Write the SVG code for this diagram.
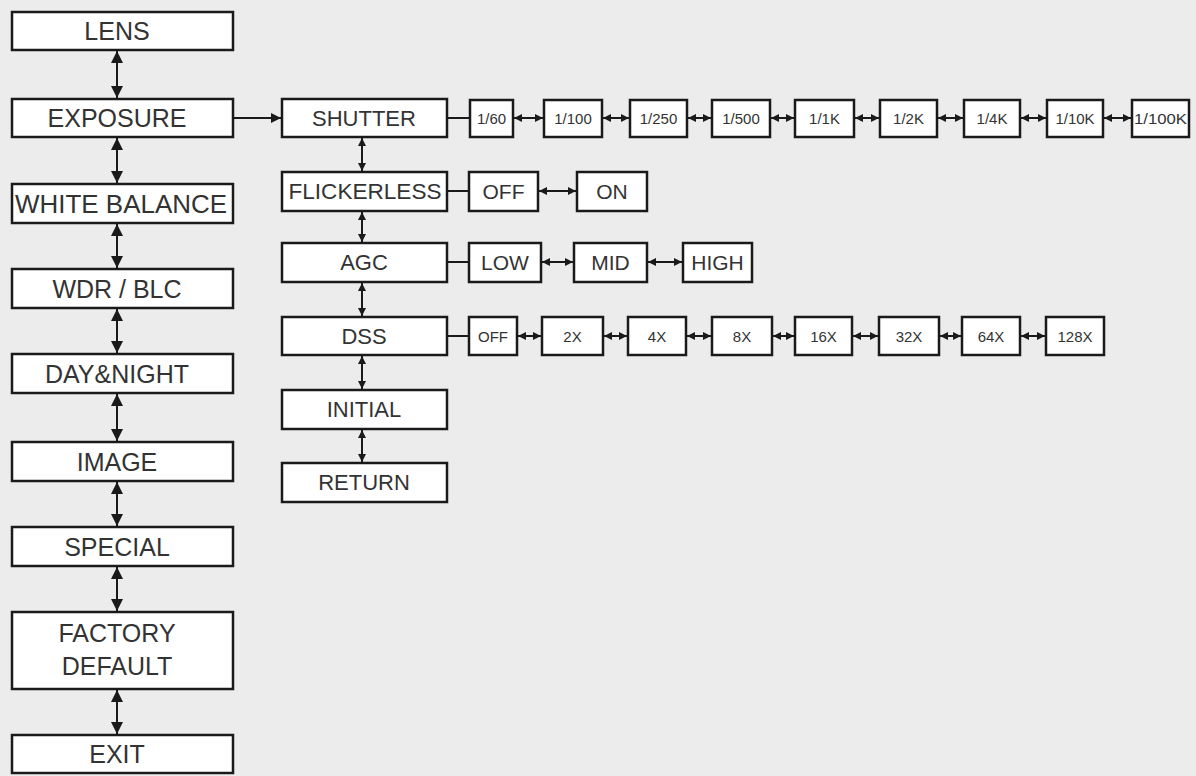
<svg xmlns="http://www.w3.org/2000/svg" width="1196" height="776" viewBox="0 0 1196 776">
<defs>
<style>
.box{fill:#fff;stroke:#1a1a1a;stroke-width:2.5}
.t{font-family:"Liberation Sans",Arial,sans-serif;fill:#333;text-anchor:middle}
.l{font-size:25px}
.m{font-size:22px}
.v{font-size:21px}
.s{font-size:15px}
.c{stroke:#1a1a1a;stroke-width:2;fill:none}
.big{marker-start:url(#ab);marker-end:url(#ab)}
.sm{marker-start:url(#as);marker-end:url(#as)}
</style>
<marker id="ab" markerUnits="userSpaceOnUse" markerWidth="12" markerHeight="12" viewBox="0 0 12 12" refX="12" refY="6" orient="auto-start-reverse"><path d="M0,0 L12,6 L0,12 z" fill="#1a1a1a"/></marker>
<marker id="as" markerUnits="userSpaceOnUse" markerWidth="8" markerHeight="8" viewBox="0 0 8 8" refX="8" refY="4" orient="auto-start-reverse"><path d="M0,0 L8,4 L0,8 z" fill="#1a1a1a"/></marker>
<marker id="ae" markerUnits="userSpaceOnUse" markerWidth="10" markerHeight="10" viewBox="0 0 10 10" refX="10" refY="5" orient="auto"><path d="M0,0 L10,5 L0,10 z" fill="#1a1a1a"/></marker>
</defs>
<rect width="1196" height="776" fill="#ececec"/>

<g id="connectors">
<line class="c big" x1="117" y1="51" x2="117" y2="98"/>
<line class="c big" x1="117" y1="138" x2="117" y2="183"/>
<line class="c big" x1="117" y1="224" x2="117" y2="268"/>
<line class="c big" x1="117" y1="309" x2="117" y2="353"/>
<line class="c big" x1="117" y1="394" x2="117" y2="441"/>
<line class="c big" x1="117" y1="482" x2="117" y2="526"/>
<line class="c big" x1="117" y1="567" x2="117" y2="611"/>
<line class="c big" x1="117" y1="690" x2="117" y2="734"/>
<line class="c" x1="233" y1="118" x2="281" y2="118" marker-end="url(#ae)"/>
<line class="c sm" x1="362" y1="138" x2="362" y2="171"/>
<line class="c sm" x1="362" y1="212" x2="362" y2="242"/>
<line class="c sm" x1="362" y1="283" x2="362" y2="316"/>
<line class="c sm" x1="362" y1="356" x2="362" y2="389"/>
<line class="c sm" x1="362" y1="430" x2="362" y2="462"/>
<line class="c" x1="448" y1="118" x2="469" y2="118"/>
<line class="c sm" x1="514" y1="118" x2="543" y2="118"/>
<line class="c sm" x1="603" y1="118" x2="629" y2="118"/>
<line class="c sm" x1="688" y1="118" x2="711" y2="118"/>
<line class="c sm" x1="771" y1="118" x2="794" y2="118"/>
<line class="c sm" x1="855" y1="118" x2="879" y2="118"/>
<line class="c sm" x1="938" y1="118" x2="963" y2="118"/>
<line class="c sm" x1="1021" y1="118" x2="1046" y2="118"/>
<line class="c sm" x1="1104" y1="118" x2="1131" y2="118"/>
<line class="c" x1="448" y1="191" x2="468" y2="191"/>
<line class="c sm" x1="539" y1="191" x2="576" y2="191"/>
<line class="c" x1="448" y1="262" x2="468" y2="262"/>
<line class="c sm" x1="542" y1="262" x2="573" y2="262"/>
<line class="c sm" x1="648" y1="262" x2="682" y2="262"/>
<line class="c" x1="448" y1="336" x2="468" y2="336"/>
<line class="c sm" x1="518" y1="336" x2="541" y2="336"/>
<line class="c sm" x1="604" y1="336" x2="627" y2="336"/>
<line class="c sm" x1="687" y1="336" x2="711" y2="336"/>
<line class="c sm" x1="773" y1="336" x2="794" y2="336"/>
<line class="c sm" x1="853" y1="336" x2="878" y2="336"/>
<line class="c sm" x1="940" y1="336" x2="961" y2="336"/>
<line class="c sm" x1="1021" y1="336" x2="1045" y2="336"/>
</g>

<g id="lens"><rect class="box" x="12" y="12" width="221" height="38"/><text class="t l" x="117" y="40">LENS</text></g>
<g id="exposure"><rect class="box" x="12" y="99" width="221" height="38"/><text class="t l" x="117" y="127">EXPOSURE</text></g>
<g id="white-balance"><rect class="box" x="12" y="184" width="221" height="39"/><text class="t l" x="121" y="213" textLength="212" lengthAdjust="spacingAndGlyphs">WHITE BALANCE</text></g>
<g id="wdr-blc"><rect class="box" x="12" y="269" width="221" height="39"/><text class="t l" x="117" y="298">WDR / BLC</text></g>
<g id="day-night"><rect class="box" x="12" y="354" width="221" height="39"/><text class="t l" x="117" y="383">DAY&amp;NIGHT</text></g>
<g id="image"><rect class="box" x="12" y="442" width="221" height="39"/><text class="t l" x="117" y="471">IMAGE</text></g>
<g id="special"><rect class="box" x="12" y="527" width="221" height="39"/><text class="t l" x="117" y="556">SPECIAL</text></g>
<g id="factory-default"><rect class="box" x="12" y="612" width="221" height="77"/><text class="t l" x="117" y="642">FACTORY</text><text class="t l" x="117" y="675">DEFAULT</text></g>
<g id="exit"><rect class="box" x="12" y="735" width="221" height="38"/><text class="t l" x="117" y="763">EXIT</text></g>

<g id="shutter"><rect class="box" x="282" y="99" width="165" height="38"/><text class="t m" x="364" y="126">SHUTTER</text></g>
<g id="flickerless"><rect class="box" x="282" y="172" width="165" height="39"/><text class="t m" x="365" y="199" textLength="153" lengthAdjust="spacingAndGlyphs">FLICKERLESS</text></g>
<g id="agc"><rect class="box" x="282" y="243" width="165" height="39"/><text class="t m" x="364" y="270">AGC</text></g>
<g id="dss"><rect class="box" x="282" y="317" width="165" height="38"/><text class="t m" x="364" y="344">DSS</text></g>
<g id="initial"><rect class="box" x="282" y="390" width="165" height="39"/><text class="t m" x="364" y="417">INITIAL</text></g>
<g id="return"><rect class="box" x="282" y="463" width="165" height="39"/><text class="t m" x="364" y="490">RETURN</text></g>

<g id="s-1-60"><rect class="box" x="470" y="100" width="43" height="37"/><text class="t s" x="491.5" y="124">1/60</text></g>
<g id="s-1-100"><rect class="box" x="544" y="100" width="58" height="37"/><text class="t s" x="573" y="124">1/100</text></g>
<g id="s-1-250"><rect class="box" x="630" y="100" width="57" height="37"/><text class="t s" x="658.5" y="124">1/250</text></g>
<g id="s-1-500"><rect class="box" x="712" y="100" width="58" height="37"/><text class="t s" x="741" y="124">1/500</text></g>
<g id="s-1-1k"><rect class="box" x="795" y="100" width="59" height="37"/><text class="t s" x="824.5" y="124">1/1K</text></g>
<g id="s-1-2k"><rect class="box" x="880" y="100" width="57" height="37"/><text class="t s" x="908.5" y="124">1/2K</text></g>
<g id="s-1-4k"><rect class="box" x="964" y="100" width="56" height="37"/><text class="t s" x="992" y="124">1/4K</text></g>
<g id="s-1-10k"><rect class="box" x="1047" y="100" width="56" height="37"/><text class="t s" x="1075" y="124">1/10K</text></g>
<g id="s-1-100k"><rect class="box" x="1132" y="100" width="57" height="37"/><text class="t s" x="1160.5" y="124" textLength="53" lengthAdjust="spacingAndGlyphs">1/100K</text></g>

<g id="f-off"><rect class="box" x="469" y="172" width="69" height="39"/><text class="t v" x="503.5" y="199">OFF</text></g>
<g id="f-on"><rect class="box" x="577" y="172" width="70" height="39"/><text class="t v" x="612" y="199">ON</text></g>

<g id="a-low"><rect class="box" x="469" y="243" width="72" height="39"/><text class="t v" x="505" y="270">LOW</text></g>
<g id="a-mid"><rect class="box" x="574" y="243" width="73" height="39"/><text class="t v" x="610.5" y="270">MID</text></g>
<g id="a-high"><rect class="box" x="683" y="243" width="69" height="39"/><text class="t v" x="717.5" y="270">HIGH</text></g>

<g id="d-off"><rect class="box" x="469" y="317" width="48" height="38"/><text class="t s" x="493" y="342">OFF</text></g>
<g id="d-2x"><rect class="box" x="542" y="317" width="61" height="38"/><text class="t s" x="572.5" y="342">2X</text></g>
<g id="d-4x"><rect class="box" x="628" y="317" width="58" height="38"/><text class="t s" x="657" y="342">4X</text></g>
<g id="d-8x"><rect class="box" x="712" y="317" width="60" height="38"/><text class="t s" x="742" y="342">8X</text></g>
<g id="d-16x"><rect class="box" x="795" y="317" width="57" height="38"/><text class="t s" x="823.5" y="342">16X</text></g>
<g id="d-32x"><rect class="box" x="879" y="317" width="60" height="38"/><text class="t s" x="909" y="342">32X</text></g>
<g id="d-64x"><rect class="box" x="962" y="317" width="58" height="38"/><text class="t s" x="991" y="342">64X</text></g>
<g id="d-128x"><rect class="box" x="1046" y="317" width="58" height="38"/><text class="t s" x="1075" y="342">128X</text></g>
</svg>
